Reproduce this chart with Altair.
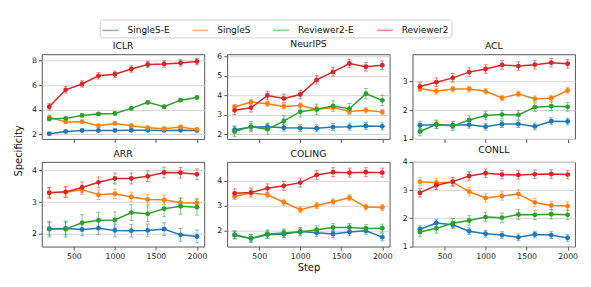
import altair as alt
import pandas as pd

steps = [200, 400, 600, 800, 1000, 1200, 1400, 1600, 1800, 2000]
series = ["SingleS-E", "SingleS", "Reviewer2-E", "Reviewer2"]
colors = ["#1f77b4", "#ff7f0e", "#2ca02c", "#d62728"]
datasets = ["ICLR", "NeurIPS", "ACL", "ARR", "COLING", "CONLL"]

# values per dataset, per series (order: SingleS-E, SingleS, Reviewer2-E, Reviewer2)
iclr = [
    [2.05, 2.23, 2.31, 2.31, 2.31, 2.33, 2.33, 2.32, 2.33, 2.31],
    [3.40, 3.00, 3.03, 2.70, 2.89, 2.70, 2.54, 2.46, 2.60, 2.40],
    [3.24, 3.30, 3.54, 3.65, 3.70, 4.11, 4.60, 4.24, 4.78, 5.00],
    [4.24, 5.62, 6.10, 6.76, 6.89, 7.32, 7.68, 7.73, 7.81, 7.92],
]
neurips = [
    [2.24, 2.37, 2.39, 2.34, 2.32, 2.31, 2.37, 2.39, 2.43, 2.41],
    [3.40, 3.65, 3.57, 3.43, 3.48, 3.29, 3.38, 3.17, 3.23, 3.14],
    [2.15, 2.39, 2.26, 2.68, 3.16, 3.28, 3.45, 3.31, 4.08, 3.74],
    [3.23, 3.36, 3.99, 3.84, 4.04, 4.79, 5.20, 5.63, 5.46, 5.54],
]
acl = [
    [1.47, 1.49, 1.47, 1.49, 1.42, 1.51, 1.51, 1.43, 1.61, 1.60],
    [2.75, 2.65, 2.73, 2.73, 2.65, 2.42, 2.56, 2.39, 2.41, 2.68],
    [1.25, 1.50, 1.44, 1.65, 1.81, 1.84, 1.83, 2.10, 2.13, 2.11],
    [2.82, 2.97, 3.12, 3.32, 3.43, 3.57, 3.53, 3.58, 3.65, 3.61],
]
arr = [
    [2.16, 2.17, 2.14, 2.18, 2.11, 2.10, 2.11, 2.15, 1.97, 1.92],
    [3.30, 3.31, 3.39, 3.23, 3.26, 3.16, 3.08, 3.07, 2.98, 2.97],
    [2.15, 2.15, 2.35, 2.43, 2.44, 2.67, 2.63, 2.79, 2.87, 2.84],
    [3.29, 3.32, 3.46, 3.62, 3.74, 3.74, 3.81, 3.93, 3.92, 3.87],
]
coling = [
    [1.84, 1.69, 1.84, 1.87, 1.97, 1.92, 1.87, 1.95, 2.00, 1.74],
    [3.37, 3.52, 3.44, 3.14, 2.84, 3.01, 3.16, 3.32, 2.95, 2.93],
    [1.82, 1.69, 1.87, 1.91, 1.95, 2.04, 2.13, 2.13, 2.09, 2.10],
    [3.50, 3.53, 3.70, 3.80, 3.93, 4.24, 4.35, 4.33, 4.35, 4.33],
]
conll = [
    [1.61, 1.83, 1.77, 1.54, 1.45, 1.40, 1.32, 1.42, 1.40, 1.30],
    [3.30, 3.26, 3.28, 2.94, 2.72, 2.79, 2.86, 2.56, 2.45, 2.43],
    [1.51, 1.64, 1.82, 1.92, 2.04, 2.02, 2.13, 2.12, 2.14, 2.12],
    [2.90, 3.17, 3.30, 3.50, 3.60, 3.55, 3.54, 3.56, 3.57, 3.55],
]
# half-width of error bars per series
errs = {
    "ICLR": [0.09, 0.12, 0.12, 0.26],
    "NeurIPS": [0.18, 0.13, 0.27, 0.22],
    "ACL": [0.12, 0.10, 0.15, 0.15],
    "ARR": [0.20, 0.15, 0.25, 0.17],
    "COLING": [0.15, 0.12, 0.16, 0.18],
    "CONLL": [0.12, 0.15, 0.17, 0.15],
}
values = {"ICLR": iclr, "NeurIPS": neurips, "ACL": acl, "ARR": arr, "COLING": coling, "CONLL": conll}

ydomains = {
    "ICLR": [1.62, 8.51], "NeurIPS": [1.76, 6.1], "ACL": [0.99, 3.94],
    "ARR": [1.6, 4.26], "COLING": [1.36, 4.76], "CONLL": [0.99, 4.0],
}
yticks = {
    "ICLR": [2, 4, 6, 8], "NeurIPS": [2, 3, 4, 5, 6], "ACL": [1, 2, 3],
    "ARR": [2, 3, 4], "COLING": [2, 3, 4], "CONLL": [1, 2, 3, 4],
}
xticks = [500, 1000, 1500, 2000]

rows = []
for d in datasets:
    for si, s in enumerate(series):
        for st, v in zip(steps, values[d][si]):
            e = errs[d][si]
            rows.append({"dataset": d, "series": s, "order": si, "step": st,
                         "value": v, "lo": v - e, "hi": v + e})
df = pd.DataFrame(rows)

FONT = "DejaVu Sans"
color_enc = alt.Color("series:N", scale=alt.Scale(domain=series, range=colors),
                      legend=alt.Legend(title=None))


def panel(name, bottom, ytitle=False, xtitle=False):
    sub = df[df.dataset == name]
    xaxis_kw = dict(values=xticks, labels=bottom, grid=False, format="d")
    xaxis_kw["title"] = "Step" if xtitle else None
    yaxis_kw = dict(values=yticks[name], grid=True, format="d")
    if ytitle:
        # shared title centred between the two rows (placed from the top-left panel)
        yaxis_kw["title"] = "Specificity"
        yaxis_kw["titleY"] = 96.5
    else:
        yaxis_kw["title"] = None
    xs = alt.Scale(domain=[110, 2090], nice=False, zero=False)
    ys = alt.Scale(domain=ydomains[name], nice=False, zero=False)
    x = alt.X("step:Q", scale=xs, axis=alt.Axis(**xaxis_kw))
    y = alt.Y("value:Q", scale=ys, axis=alt.Axis(**yaxis_kw))
    base = alt.Chart(sub)
    rule = base.mark_rule(strokeWidth=1, opacity=0.55).encode(
        x=x, y=alt.Y("lo:Q", scale=ys, axis=alt.Axis(**yaxis_kw)), y2="hi:Q", color=color_enc)
    cap_lo = base.mark_tick(orient="horizontal", size=4, thickness=1, opacity=0.55).encode(
        x=x, y=alt.Y("lo:Q", scale=ys, axis=alt.Axis(**yaxis_kw)), color=color_enc)
    cap_hi = base.mark_tick(orient="horizontal", size=4, thickness=1, opacity=0.55).encode(
        x=x, y=alt.Y("hi:Q", scale=ys, axis=alt.Axis(**yaxis_kw)), color=color_enc)
    line = base.mark_line(strokeWidth=1.5).encode(
        x=x, y=y, color=color_enc, order="step:Q", detail="series:N")
    pts = base.mark_circle(size=24, opacity=1).encode(x=x, y=y, color=color_enc)
    return alt.layer(rule, cap_lo, cap_hi, line, pts).properties(
        width=163, height=85,
        title=alt.TitleParams(text=name, fontSize=9.3, font=FONT, fontWeight="normal",
                              color="#111", offset=3, frame="group"),
    )


panels = [
    panel("ICLR", False, ytitle=True), panel("NeurIPS", False), panel("ACL", False),
    panel("ARR", True), panel("COLING", True, xtitle=True), panel("CONLL", True),
]

chart = alt.concat(*panels, columns=3, spacing=23, bounds="flush").properties(
    padding={"left": 5, "top": 10, "right": 5, "bottom": 5}
).configure(font=FONT).configure_view(
    stroke="#444", strokeWidth=0.9
).configure_axis(
    domain=False, tickColor="#444", tickSize=3.5, tickWidth=0.9,
    labelFont=FONT, labelFontSize=7.8, labelColor="#222", labelPadding=2,
    titleFont=FONT, titleFontSize=10, titleFontWeight="normal", titleColor="#111",
    gridColor="#d4d4d4", gridWidth=1,
).configure_axisY(titlePadding=8).configure_axisX(titlePadding=3).configure_legend(
    orient="none", legendX=58, legendY=-35, direction="horizontal",
    symbolType="stroke", symbolSize=256, symbolStrokeWidth=1.5,
    labelFont=FONT, labelFontSize=9, labelColor="#111", labelOffset=8,
    columnPadding=19, padding=2, strokeColor="#d0d0d0", cornerRadius=3,
    fillColor="white",
)

chart.save("out.html", embed_options={"renderer": "svg", "actions": False})
